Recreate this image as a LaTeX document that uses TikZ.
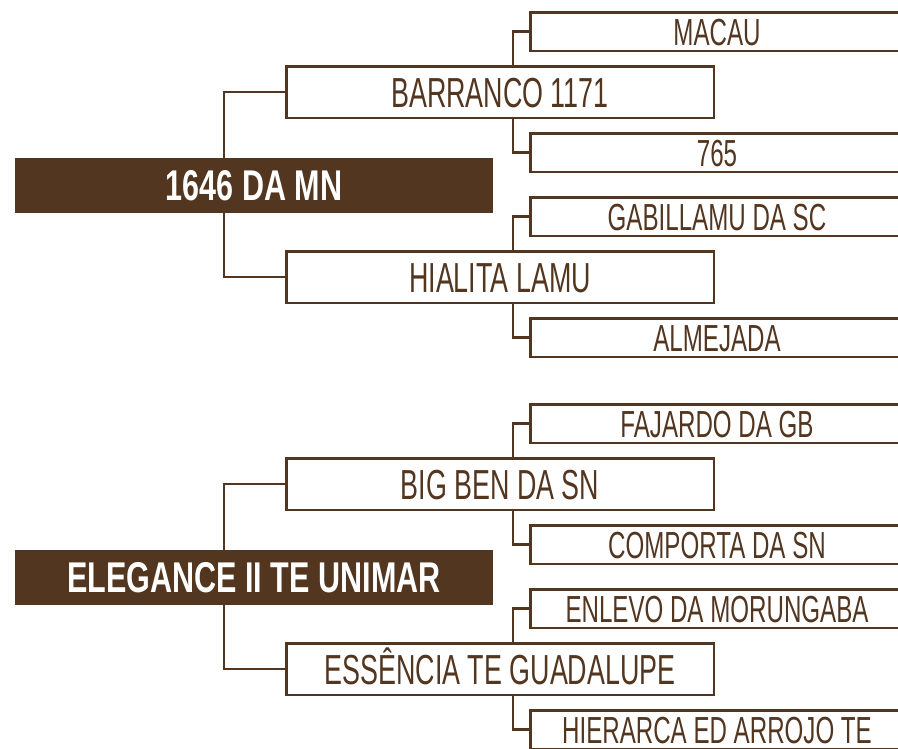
\documentclass[tikz,border=0pt]{standalone}
\usepackage{fontspec}
\usepackage{tikz}
\usetikzlibrary{positioning}
\newfontfamily\boxfont[FakeStretch=0.64]{Liberation Sans}
\newfontfamily\rootfont[FakeStretch=0.71]{Liberation Sans}
\definecolor{bark}{RGB}{83,54,32}
\tikzstyle{rootbox} = [fill=bark, text=white, inner sep=0pt, outer sep=0pt, minimum width=478pt, minimum height=55pt, text height=30.8pt, text depth=0pt, font=\rootfont\bfseries\fontsize{43}{43}\selectfont]
\tikzstyle{childbox} = [draw=bark, line width=2.5pt, fill=white, text=bark, inner sep=0pt, minimum width=427.5pt, minimum height=51.5pt, text height=30pt, text depth=0pt, font=\boxfont\fontsize{42}{42}\selectfont]
\tikzstyle{leafbox} = [draw=bark, line width=2.5pt, fill=white, text=bark, inner sep=0pt, minimum width=373.5pt, minimum height=38.5pt, text height=27pt, text depth=0pt, font=\boxfont\fontsize{37.7}{37.7}\selectfont]
\tikzstyle{link} = [draw=bark, line width=2.5pt]

\begin{document}
\begin{tikzpicture}[x=1pt, y=-1pt]
    \useasboundingbox (0,0) rectangle (898,748);
    \clip (0,0) rectangle (898,748);
    % first tree
    \node [rootbox] (r1) at (254,185.5) {1646 DA MN};
    \node [childbox, above right=39pt and 270pt of r1.north west] (c11) {BARRANCO 1171};
    \node [childbox, below right=37pt and 270pt of r1.south west] (c12) {HIALITA LAMU};
    \node [leafbox, above right=13pt and 244pt of c11.north west] (l111) {MACAU};
    \node [leafbox, below right=13pt and 244pt of c11.south west] (l112) {765};
    \node [leafbox, above right=13pt and 244pt of c12.north west] (l121) {GABILLAMU DA SC};
    \node [leafbox, below right=13pt and 244pt of c12.south west] (l122) {ALMEJADA};
    \draw [link] (r1.north) ++(-30,0) |- (c11.west);
    \draw [link] (r1.south) ++(-30,0) |- (c12.west);
    \draw [link] (c11.north -| l111.west) ++(-16,0) |- (l111.west);
    \draw [link] (c11.south -| l112.west) ++(-16,0) |- (l112.west);
    \draw [link] (c12.north -| l121.west) ++(-16,0) |- (l121.west);
    \draw [link] (c12.south -| l122.west) ++(-16,0) |- (l122.west);
    % second tree
    \node [rootbox] (r2) at (254,577.5) {ELEGANCE II TE UNIMAR};
    \node [childbox, above right=39pt and 270pt of r2.north west] (c21) {BIG BEN DA SN};
    \node [childbox, below right=37pt and 270pt of r2.south west] (c22) {ESSÊNCIA TE GUADALUPE};
    \node [leafbox, above right=13pt and 244pt of c21.north west] (l211) {FAJARDO DA GB};
    \node [leafbox, below right=13pt and 244pt of c21.south west] (l212) {COMPORTA DA SN};
    \node [leafbox, above right=13pt and 244pt of c22.north west] (l221) {ENLEVO DA MORUNGABA};
    \node [leafbox, below right=13pt and 244pt of c22.south west] (l222) {HIERARCA ED ARROJO TE};
    \draw [link] (r2.north) ++(-30,0) |- (c21.west);
    \draw [link] (r2.south) ++(-30,0) |- (c22.west);
    \draw [link] (c21.north -| l211.west) ++(-16,0) |- (l211.west);
    \draw [link] (c21.south -| l212.west) ++(-16,0) |- (l212.west);
    \draw [link] (c22.north -| l221.west) ++(-16,0) |- (l221.west);
    \draw [link] (c22.south -| l222.west) ++(-16,0) |- (l222.west);
\end{tikzpicture}
\end{document}
